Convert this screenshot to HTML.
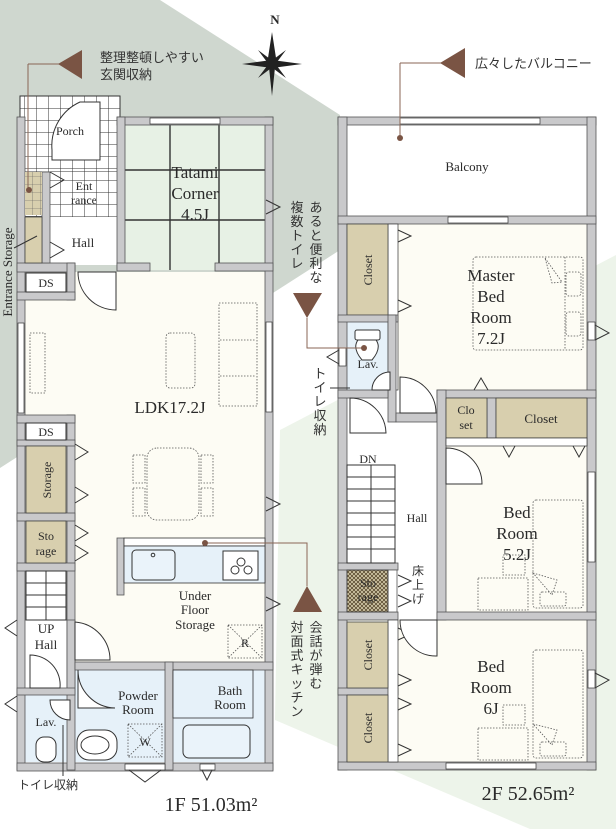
<!DOCTYPE html>
<html><head><meta charset="utf-8"><style>
html,body{margin:0;padding:0;background:#fff}
svg{display:block}
text{font-family:"Liberation Serif",serif;fill:#2a2a2a}
.jp{font-family:"Liberation Sans","Noto Sans CJK JP",sans-serif;fill:#333}
.w{fill:#c9c9cb;stroke:#555;stroke-width:.8}
.ln{stroke:#333;stroke-width:1;fill:none}
.dot{fill:none;stroke:#555;stroke-width:.8;stroke-dasharray:1.5 1.5}
.door{fill:#fff;stroke:#333;stroke-width:1}
.tan{fill:#d8cfae;stroke:#444;stroke-width:.8}
.blue{fill:#e6f1f9}
.cream{fill:#fdfcf4}
.br{fill:#7a5444}
.bl{stroke:#8a6656;stroke-width:1;fill:none}
</style></head><body>
<svg width="616" height="829" viewBox="0 0 616 829" xmlns="http://www.w3.org/2000/svg">
<defs>
<pattern id="tile" width="12" height="12" patternUnits="userSpaceOnUse"><rect width="12" height="12" fill="#fff"/><path d="M0 0H12M0 0V12" stroke="#333" stroke-width="1"/></pattern>
<pattern id="tile2" width="8" height="8" patternUnits="userSpaceOnUse"><rect width="8" height="8" fill="#d8cfae"/><path d="M0 0H8M0 0V8" stroke="#555" stroke-width=".6"/></pattern>
<pattern id="hatch" width="4" height="4" patternUnits="userSpaceOnUse"><rect width="4" height="4" fill="#d8cfae"/><path d="M0 4L4 0M0 0L4 4" stroke="#5a4a30" stroke-width=".8"/></pattern>
</defs>
<polygon points="0,0 160,0 340,115 340,250 0,468" fill="#cfd7cf"/>
<polygon points="280,430 616,255 616,829 530,829 275,720" fill="#edf4ea"/>

<!-- ===== 1F ===== -->
<rect x="20" y="96" width="100" height="76" fill="url(#tile)" stroke="#333"/>
<rect x="25" y="172" width="92" height="45" fill="url(#tile)"/>
<rect x="50" y="217" width="67" height="48" fill="#fff"/>
<rect x="125" y="125" width="140" height="145" fill="#e7f1e5"/>
<path d="M170 125V270M219 125V270M125 170H265M125 220H265" stroke="#333" stroke-width="1.4"/>
<rect x="25" y="272" width="240" height="390" class="cream"/>
<rect x="75" y="670" width="190" height="92" class="blue"/>
<rect x="25" y="695" width="42" height="67" class="blue"/>
<rect x="25" y="620" width="42" height="75" fill="#fff"/>
<rect x="17" y="117" width="8" height="653" class="w"/>
<rect x="265" y="117" width="8" height="653" class="w"/>
<rect x="117" y="117" width="156" height="8" class="w"/>
<rect x="117" y="117" width="8" height="153" class="w"/>
<rect x="117" y="263" width="33" height="8" class="w"/>
<rect x="215" y="263" width="58" height="8" class="w"/>
<rect x="17" y="263" width="58" height="9" class="w"/>
<rect x="67" y="263" width="8" height="37" class="w"/>
<rect x="17" y="292" width="58" height="8" class="w"/>
<rect x="42" y="172" width="8" height="91" class="w"/>
<rect x="25" y="172" width="17" height="43" fill="url(#tile2)"/>
<rect x="25" y="217" width="17" height="46" class="tan"/>
<rect x="17" y="763" width="256" height="8" class="w"/>
<rect x="67" y="415" width="8" height="280" class="w"/>
<rect x="17" y="415" width="58" height="8" class="w"/>
<rect x="17" y="440" width="58" height="6" class="w"/>
<rect x="17" y="513" width="58" height="8" class="w"/>
<rect x="17" y="563" width="58" height="8" class="w"/>
<rect x="67" y="620" width="8" height="150" class="w"/>
<rect x="17" y="688" width="58" height="7" class="w"/>
<rect x="75" y="662" width="198" height="8" class="w"/>
<rect x="165" y="662" width="8" height="108" class="w"/>
<rect x="26" y="273" width="40" height="19" fill="#fff" stroke="#333"/>
<text x="46" y="287" font-size="12" text-anchor="middle">DS</text>
<rect x="26" y="423" width="40" height="17" fill="#fff" stroke="#333"/>
<text x="46" y="436" font-size="12" text-anchor="middle">DS</text>
<rect x="26" y="446" width="40" height="67" class="tan"/>
<text transform="translate(51,480) rotate(-90)" font-size="12" text-anchor="middle">Storage</text>
<rect x="26" y="521" width="40" height="42" class="tan"/>
<text x="46" y="540" font-size="12" text-anchor="middle">Sto</text>
<text x="46" y="555" font-size="12" text-anchor="middle">rage</text>
<rect x="26" y="571" width="40" height="49" fill="#fff" stroke="#333"/>
<path d="M26 583H66M26 595H66M26 607H66M46 571V620" stroke="#333"/>
<rect x="18" y="323" width="6" height="90" fill="#fff" stroke="#333" stroke-width=".7"/>
<rect x="266" y="322" width="6" height="90" fill="#fff" stroke="#333" stroke-width=".7"/>
<rect x="150" y="118" width="70" height="6" fill="#fff" stroke="#333" stroke-width=".7"/>
<rect x="125" y="764" width="40" height="6" fill="#fff" stroke="#333" stroke-width=".7"/>
<rect x="200" y="764" width="15" height="6" fill="#fff" stroke="#333" stroke-width=".7"/>
<path d="M129 770L145 782L161 770M202 770L207 780L212 770" class="ln"/>
<path d="M266 200L280 207L266 214M266 497L280 504L266 511M266 597L280 604L266 611M17 620L5 628L17 636M17 696L5 704L17 712" class="ln"/>
<path d="M50 258L64 250L50 242M50 188L64 180L50 172M75 460L88 452L75 444M75 503L88 495L75 487M75 525L88 533L75 541M75 545L88 553L75 561" class="ln"/>
<path d="M80 102 A48 48 0 0 0 52 150 L52 160 L100 160 L100 102Z" class="door"/>
<path d="M78 272 A38 38 0 0 0 116 310 L116 272Z" class="door"/>
<path d="M75 622 A38 38 0 0 1 110 660 L75 660Z" class="door"/>
<path d="M30 655 A30 30 0 0 1 60 688 L30 688Z" class="door"/>
<path d="M78 670 A38 38 0 0 0 115 708 L78 708Z" class="door"/>
<path d="M173 672 A36 36 0 0 1 210 708 L173 708Z" class="door"/>
<path d="M50 700 A20 20 0 0 0 70 720 L70 700Z" class="door"/>
<rect x="30" y="333" width="15" height="60" class="dot"/>
<rect x="166" y="333" width="29" height="55" rx="4" class="dot"/>
<rect x="219" y="303" width="38" height="103" class="dot"/>
<path d="M220 340H256M220 376H256" class="dot"/>
<rect x="147" y="448" width="52" height="72" rx="10" class="dot"/>
<rect x="133" y="455" width="12" height="28" class="dot"/><rect x="133" y="488" width="12" height="28" class="dot"/>
<rect x="201" y="455" width="12" height="28" class="dot"/><rect x="201" y="488" width="12" height="28" class="dot"/>
<text x="170" y="413" font-size="17" text-anchor="middle">LDK17.2J</text>
<rect x="117" y="538" width="7" height="57" class="w"/>
<rect x="124" y="538" width="141" height="8" fill="#fff" stroke="#333" stroke-width=".8"/>
<rect x="124" y="546" width="141" height="37" class="blue" stroke="#333" stroke-width=".8"/>
<rect x="132" y="550" width="43" height="30" rx="4" fill="#eaf3fa" stroke="#333"/>
<circle cx="153" cy="555" r="1.8" fill="none" stroke="#333"/>
<rect x="223" y="551" width="35" height="29" fill="#fff" stroke="#333"/>
<circle cx="235" cy="570" r="4" fill="none" stroke="#333"/><circle cx="241" cy="562" r="4" fill="none" stroke="#333"/><circle cx="248" cy="570" r="4" fill="none" stroke="#333"/>
<text x="195" y="600" font-size="13" text-anchor="middle">Under</text>
<text x="195" y="614" font-size="13" text-anchor="middle">Floor</text>
<text x="195" y="629" font-size="13" text-anchor="middle">Storage</text>
<rect x="228" y="625" width="34" height="33" class="dot"/>
<path d="M228 625L262 658M262 625L228 658" class="dot"/>
<text x="245" y="647" font-size="12" text-anchor="middle">R</text>
<rect x="173" y="670" width="80" height="48" fill="#e6f1f9" stroke="#333" stroke-width=".8"/>
<rect x="183" y="725" width="67" height="33" rx="6" fill="#eaf3fa" stroke="#333"/>
<text x="230" y="695" font-size="13" text-anchor="middle">Bath</text>
<text x="230" y="709" font-size="13" text-anchor="middle">Room</text>
<text x="138" y="700" font-size="13" text-anchor="middle">Powder</text>
<text x="138" y="714" font-size="13" text-anchor="middle">Room</text>
<rect x="128" y="724" width="34" height="33" class="dot"/>
<path d="M128 724L162 757M162 724L128 757" class="dot"/>
<text x="145" y="746" font-size="12" text-anchor="middle">W</text>
<rect x="77" y="730" width="40" height="30" rx="12" fill="#fff" stroke="#333"/>
<ellipse cx="95" cy="745" rx="14" ry="9" fill="none" stroke="#333"/>
<rect x="36" y="737" width="20" height="25" rx="8" fill="#fff" stroke="#333"/>
<text x="46" y="726" font-size="12" text-anchor="middle">Lav.</text>
<text x="46" y="633" font-size="13" text-anchor="middle">UP</text>
<text x="46" y="649" font-size="13" text-anchor="middle">Hall</text>
<text x="70" y="135" font-size="12" text-anchor="middle">Porch</text>
<text x="84" y="190" font-size="12" text-anchor="middle">Ent</text>
<text x="84" y="204" font-size="12" text-anchor="middle">rance</text>
<text x="83" y="247" font-size="13" text-anchor="middle">Hall</text>
<text x="195" y="178" font-size="17" text-anchor="middle">Tatami</text>
<text x="195" y="199" font-size="17" text-anchor="middle">Corner</text>
<text x="195" y="220" font-size="17" text-anchor="middle">4.5J</text>
<text transform="translate(12,272) rotate(-90)" font-size="13" text-anchor="middle">Entrance Storage</text>
<path d="M14 248L37 236" class="ln"/>
<text x="211" y="811" font-size="20" text-anchor="middle">1F 51.03m²</text>

<!-- ===== 2F ===== -->
<rect x="347" y="125" width="240" height="91" fill="#fff"/>
<rect x="347" y="224" width="240" height="538" class="cream"/>
<rect x="347" y="390" width="90" height="230" fill="#fff"/>
<rect x="347" y="322" width="41" height="68" class="blue"/>
<rect x="338" y="117" width="258" height="8" class="w"/>
<rect x="338" y="117" width="9" height="653" class="w"/>
<rect x="587" y="117" width="9" height="653" class="w"/>
<rect x="338" y="216" width="258" height="8" class="w"/>
<rect x="338" y="762" width="258" height="8" class="w"/>
<rect x="400" y="118" width="140" height="6" fill="#fff" stroke="#333" stroke-width=".7"/>
<rect x="448" y="217" width="60" height="6" fill="#fff" stroke="#333" stroke-width=".7"/>
<rect x="446" y="763" width="90" height="6" fill="#fff" stroke="#333" stroke-width=".7"/>
<rect x="388" y="224" width="10" height="166" fill="#fff" stroke="#333" stroke-width=".7"/>
<rect x="347" y="224" width="41" height="91" class="tan"/>
<text transform="translate(372,270) rotate(-90)" font-size="12" text-anchor="middle">Closet</text>
<rect x="338" y="315" width="60" height="7" class="w"/>
<rect x="388" y="315" width="8" height="107" class="w"/>
<rect x="338" y="390" width="50" height="8" class="w"/>
<rect x="396" y="413" width="41" height="9" class="w"/>
<rect x="437" y="390" width="159" height="8" class="w"/>
<rect x="437" y="390" width="9" height="230" class="w"/>
<rect x="487" y="398" width="9" height="40" class="w"/>
<rect x="446" y="398" width="41" height="40" class="tan"/>
<text x="466" y="414" font-size="12" text-anchor="middle">Clo</text>
<text x="466" y="429" font-size="12" text-anchor="middle">set</text>
<rect x="496" y="398" width="91" height="40" class="tan"/>
<text x="541" y="423" font-size="13" text-anchor="middle">Closet</text>
<rect x="446" y="438" width="141" height="8" fill="#fff" stroke="#333" stroke-width=".7"/>
<rect x="437" y="612" width="159" height="8" class="w"/>
<rect x="338" y="612" width="60" height="8" class="w"/>
<rect x="338" y="688" width="60" height="7" class="w"/>
<rect x="338" y="563" width="60" height="7" class="w"/>
<rect x="388" y="570" width="9" height="42" fill="#fff" stroke="#555" stroke-width=".8"/>
<rect x="388" y="620" width="10" height="142" fill="#fff" stroke="#333" stroke-width=".7"/>
<rect x="347" y="622" width="41" height="66" class="tan"/>
<text transform="translate(372,655) rotate(-90)" font-size="12" text-anchor="middle">Closet</text>
<rect x="347" y="695" width="41" height="67" class="tan"/>
<text transform="translate(372,728) rotate(-90)" font-size="12" text-anchor="middle">Closet</text>
<rect x="347" y="570" width="41" height="42" fill="url(#hatch)" stroke="#444"/>
<text x="368" y="587" font-size="12" text-anchor="middle">Sto</text>
<text x="368" y="601" font-size="12" text-anchor="middle">rage</text>
<rect x="347" y="465" width="48" height="98" fill="#fff" stroke="#333"/>
<path d="M347 477H395M347 489H395M347 501H395M347 513H395M347 525H395M347 537H395M347 549H395M371 465V563" stroke="#333"/>
<text x="368" y="463" font-size="12" text-anchor="middle">DN</text>
<text x="417" y="522" font-size="12" text-anchor="middle">Hall</text>
<text class="jp" x="418" y="575" font-size="12" text-anchor="middle">床</text>
<text class="jp" x="418" y="589" font-size="12" text-anchor="middle">上</text>
<text class="jp" x="418" y="603" font-size="12" text-anchor="middle">げ</text>
<rect x="588" y="322" width="7" height="18" fill="#fff" stroke="#333" stroke-width=".7"/>
<rect x="588" y="472" width="7" height="90" fill="#fff" stroke="#333" stroke-width=".7"/>
<rect x="588" y="670" width="7" height="18" fill="#fff" stroke="#333" stroke-width=".7"/>
<rect x="339" y="348" width="7" height="18" fill="#fff" stroke="#333" stroke-width=".7"/>
<path d="M595 325L609 333L595 340M595 673L609 680L595 688M339 350L327 357L339 364" class="ln"/>
<path d="M398 230L411 236L398 242M398 300L411 306L398 312M398 628L411 634L398 640M398 674L411 680L398 686M398 698L411 704L398 710M398 744L411 750L398 756M398 575L411 581L398 587M398 595L411 601L398 607M474 390L481 378L488 390M503 446L509 457L515 446M573 446L579 457L585 446" class="ln"/>
<path d="M400 377 A36 36 0 0 1 436 413 L400 413Z" class="door"/>
<path d="M372 390 A18 18 0 0 1 390 372 L390 390Z" class="door"/>
<path d="M350 398 A36 36 0 0 1 386 433 L350 433Z" class="door"/>
<path d="M446 448 A36 36 0 0 1 482 484 L446 484Z" class="door"/>
<path d="M400 620 A36 36 0 0 0 437 656 L437 620Z" class="door"/>
<rect x="473" y="257" width="110" height="93" rx="3" class="dot"/>
<path d="M565 257V350" class="dot"/>
<rect x="566" y="272" width="15" height="24" rx="3" class="dot"/><rect x="566" y="312" width="15" height="24" rx="3" class="dot"/>
<path d="M545 258L562 282L552 283Z" class="dot"/>
<rect x="533" y="500" width="50" height="108" rx="3" class="dot"/>
<rect x="540" y="592" width="26" height="14" rx="2" class="dot"/>
<path d="M533 573L557 580L552 595Z" class="dot"/>
<rect x="478" y="578" width="50" height="32" class="dot"/>
<rect x="503" y="555" width="22" height="20" class="dot"/>
<rect x="533" y="650" width="50" height="108" rx="3" class="dot"/>
<rect x="540" y="742" width="26" height="14" rx="2" class="dot"/>
<path d="M533 724L557 730L552 745Z" class="dot"/>
<rect x="478" y="728" width="50" height="32" class="dot"/>
<rect x="503" y="705" width="22" height="20" class="dot"/>
<rect x="355" y="330" width="25" height="10" rx="2" fill="#fff" stroke="#333"/>
<path d="M358 340 Q352 348 362 360 L372 360 Q382 348 376 340Z" fill="#fff" stroke="#333"/>
<text x="368" y="368" font-size="12" text-anchor="middle">Lav.</text>
<text x="467" y="171" font-size="13" text-anchor="middle">Balcony</text>
<text x="491" y="281" font-size="17" text-anchor="middle">Master</text>
<text x="491" y="302" font-size="17" text-anchor="middle">Bed</text>
<text x="491" y="323" font-size="17" text-anchor="middle">Room</text>
<text x="491" y="344" font-size="17" text-anchor="middle">7.2J</text>
<text x="517" y="518" font-size="17" text-anchor="middle">Bed</text>
<text x="517" y="539" font-size="17" text-anchor="middle">Room</text>
<text x="517" y="560" font-size="17" text-anchor="middle">5.2J</text>
<text x="491" y="672" font-size="17" text-anchor="middle">Bed</text>
<text x="491" y="693" font-size="17" text-anchor="middle">Room</text>
<text x="491" y="714" font-size="17" text-anchor="middle">6J</text>
<text x="528" y="800" font-size="20" text-anchor="middle">2F 52.65m²</text>

<!-- callouts -->
<text x="275" y="24" font-size="13" text-anchor="middle" font-weight="bold">N</text>
<polygon points="272,32 276,58 272,96 268,58" fill="#222"/>
<polygon points="242,64 272,60 302,64 272,68" fill="#222"/>
<polygon points="258,50 274,62 286,78 270,66" fill="#222"/>
<polygon points="286,50 270,62 258,78 274,66" fill="#222"/>
<path d="M28 64V190M28 64H62" class="bl"/>
<circle cx="29" cy="190" r="3" class="br"/>
<polygon points="58,64 82,50 82,79" class="br"/>
<text class="jp" x="100" y="62" font-size="13">整理整頓しやすい</text>
<text class="jp" x="100" y="79" font-size="13">玄関収納</text>
<path d="M400 63V138M400 63H444" class="bl"/>
<circle cx="400" cy="138" r="3" class="br"/>
<polygon points="440,63 465,48 465,78" class="br"/>
<text class="jp" x="475" y="68" font-size="13">広々したバルコニー</text>
<g font-size="13" text-anchor="middle">
<text class="jp" x="316" y="212">あ</text><text class="jp" x="316" y="226">る</text><text class="jp" x="316" y="240">と</text><text class="jp" x="316" y="254">便</text><text class="jp" x="316" y="268">利</text><text class="jp" x="316" y="282">な</text>
<text class="jp" x="297" y="212">複</text><text class="jp" x="297" y="226">数</text><text class="jp" x="297" y="240">ト</text><text class="jp" x="297" y="254">イ</text><text class="jp" x="297" y="268">レ</text>
<text class="jp" x="320" y="378">ト</text><text class="jp" x="320" y="392">イ</text><text class="jp" x="320" y="406">レ</text><text class="jp" x="320" y="420">収</text><text class="jp" x="320" y="434">納</text>
<text class="jp" x="316" y="632">会</text><text class="jp" x="316" y="646">話</text><text class="jp" x="316" y="660">が</text><text class="jp" x="316" y="674">弾</text><text class="jp" x="316" y="688">む</text>
<text class="jp" x="297" y="632">対</text><text class="jp" x="297" y="646">面</text><text class="jp" x="297" y="660">式</text><text class="jp" x="297" y="674">キ</text><text class="jp" x="297" y="688">ッ</text><text class="jp" x="297" y="702">チ</text><text class="jp" x="297" y="716">ン</text>
</g>
<polygon points="293,293 322,293 307,318" class="br"/>
<path d="M307 318V348H364" class="bl"/>
<circle cx="364" cy="348" r="3" class="br"/>
<path d="M330 388H350" class="ln"/>
<polygon points="293,612 322,612 307,586" class="br"/>
<path d="M307 586V543H205" class="bl"/>
<circle cx="205" cy="543" r="3" class="br"/>
<path d="M63 725V776" class="ln"/>
<text class="jp" x="18" y="789" font-size="12">トイレ収納</text>
</svg>
</body></html>
